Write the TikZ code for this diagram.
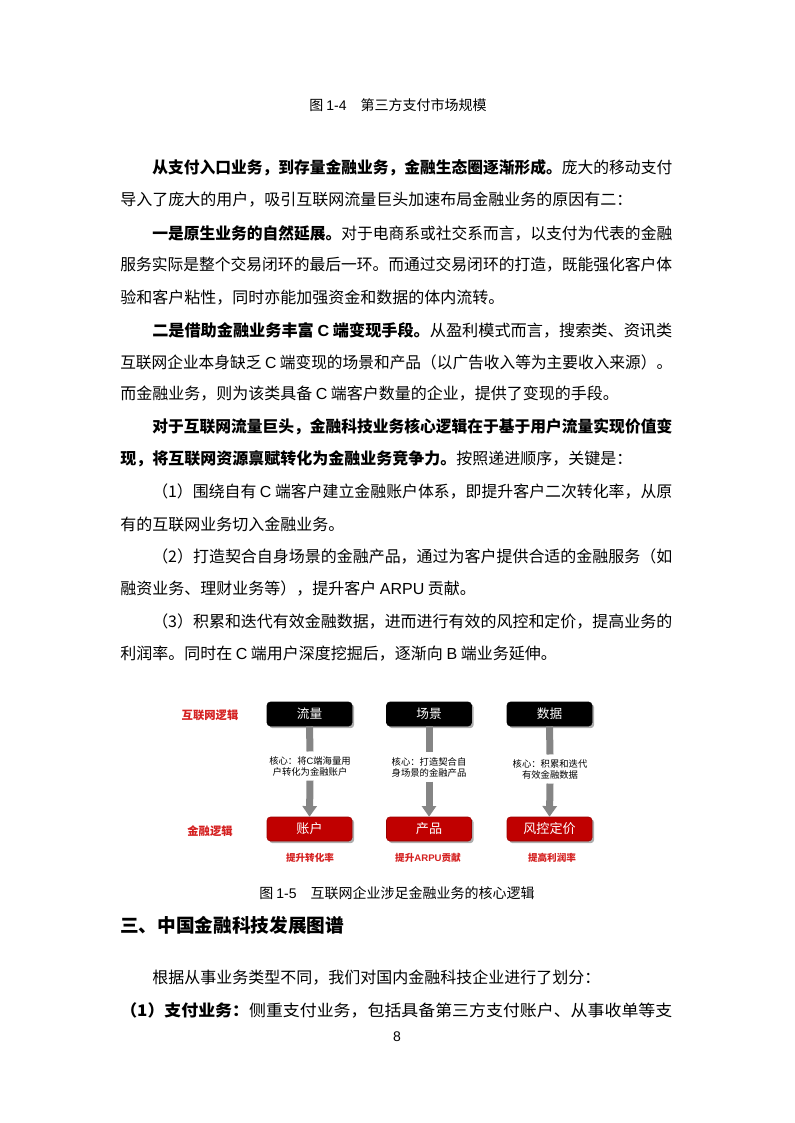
\documentclass[tikz,border=0pt]{standalone}
\usepackage{fontspec}
\usepackage{graphicx}
\setmainfont{Noto Sans CJK SC}
\newfontfamily\lat{Liberation Sans}
\usetikzlibrary{arrows.meta,shadows}
\definecolor{boxred}{HTML}{C00000}
\definecolor{labred}{HTML}{D42020}
\definecolor{arrgray}{HTML}{858585}
\newcommand\jl[2]{\resizebox{#1}{\height}{#2}}
\begin{document}
\begin{tikzpicture}[x=0.75pt,y=-0.75pt,
  body/.style={anchor=west,inner sep=0pt,font=\fontsize{12pt}{14pt}\selectfont},
  capt/.style={inner sep=0pt,font=\fontsize{10.5pt}{12pt}\selectfont},
  boxbase/.style={rounded corners=2.5pt,minimum width=63.75pt,minimum height=18pt,inner sep=0pt,text=white,
     drop shadow={shadow xshift=1.6pt,shadow yshift=-1.6pt,fill=black!45,opacity=0.7}},
  topbox/.style={boxbase,fill=black,draw=black,font=\fontsize{9.5pt}{10pt}\selectfont},
  redbox/.style={boxbase,fill=boxred,draw=boxred!80!black,font=\fontsize{9.8pt}{10pt}\selectfont},
  sidelab/.style={inner sep=0pt,text=labred,font=\fontsize{8.5pt}{9pt}\selectfont\bfseries},
  botlab/.style={inner sep=0pt,text=labred,font=\fontsize{7.2pt}{8pt}\selectfont\bfseries},
  core/.style={inner sep=0pt,outer sep=3.5pt,align=center,font=\fontsize{7pt}{8.3pt}\selectfont},
  shaft/.style={line width=5.25pt,draw=arrgray},
  arr/.style={shaft,-{Triangle[width=10.5pt,length=8pt]}}
]
\useasboundingbox (0,0) rectangle (794,1123);

\node[capt] (cap4) at (398,105) {图 {\lat 1-4}\quad 第三方支付市场规模};

\node[body] (l1) at (152,168) {\jl{390pt}{{\bfseries 从支付入口业务，到存量金融业务，金融生态圈逐渐形成。}庞大的移动支付}};
\node[body] (l2) at (120,200) {导入了庞大的用户，吸引互联网流量巨头加速布局金融业务的原因有二：};
\node[body] (l3) at (152,233) {\jl{390pt}{{\bfseries 一是原生业务的自然延展。}对于电商系或社交系而言，以支付为代表的金融}};
\node[body] (l4) at (120,265) {\jl{414pt}{服务实际是整个交易闭环的最后一环。而通过交易闭环的打造，既能强化客户体}};
\node[body] (l5) at (120,298) {验和客户粘性，同时亦能加强资金和数据的体内流转。};
\node[body] (l6) at (152,330) {\jl{390pt}{{\bfseries 二是借助金融业务丰富 {\lat C} 端变现手段。}从盈利模式而言，搜索类、资讯类}};
\node[body] (l7) at (120,362) {\jl{414pt}{互联网企业本身缺乏 {\lat C} 端变现的场景和产品（以广告收入等为主要收入来源）。}};
\node[body] (l8) at (120,394) {而金融业务，则为该类具备 {\lat C} 端客户数量的企业，提供了变现的手段。};
\node[body] (l9) at (152,427) {\jl{390pt}{\bfseries 对于互联网流量巨头，金融科技业务核心逻辑在于基于用户流量实现价值变}};
\node[body] (l10) at (120,459) {{\bfseries 现，将互联网资源禀赋转化为金融业务竞争力。}按照递进顺序，关键是：};
\node[body] (l11) at (152,492) {\jl{390pt}{（1）围绕自有 {\lat C} 端客户建立金融账户体系，即提升客户二次转化率，从原}};
\node[body] (l12) at (120,524) {有的互联网业务切入金融业务。};
\node[body] (l13) at (152,557) {\jl{390pt}{（2）打造契合自身场景的金融产品，通过为客户提供合适的金融服务（如}};
\node[body] (l14) at (120,589) {融资业务、理财业务等），提升客户 {\lat ARPU} 贡献。};
\node[body] (l15) at (152,622) {\jl{390pt}{（3）积累和迭代有效金融数据，进而进行有效的风控和定价，提高业务的}};
\node[body] (l16) at (120,654) {利润率。同时在 {\lat C} 端用户深度挖掘后，逐渐向 {\lat B} 端业务延伸。};

% diagram
\node[sidelab] (s1) at (210,715) {互联网逻辑};
\node[sidelab] (s2) at (210,831) {金融逻辑};

\node[topbox] (t1) at (309.5,714) {流量};
\node[topbox] (t2) at (429,714) {场景};
\node[topbox] (t3) at (549.5,714) {数据};

\node[redbox] (b1) at (309.5,829) {账户};
\node[redbox] (b2) at (429,829) {产品};
\node[redbox] (b3) at (549.5,829) {风控定价};

\node[core] (c1) at (310,766) {核心：将{\lat C}端海量用\\户转化为金融账户};
\node[core] (c2) at (429,767) {核心：打造契合自\\身场景的金融产品};
\node[core] (c3) at (550,769) {核心：积累和迭代\\有效金融数据};

\foreach \i in {1,2,3}{
  \draw[shaft] (t\i.south) -- (c\i.north);
  \draw[arr] (c\i.south) -- (b\i.north);
}

\node[botlab] (r1) at (310,858) {提升转化率};
\node[botlab] (r2) at (428,858) {提升{\lat ARPU}贡献};
\node[botlab] (r3) at (552,858) {提高利润率};

\node[capt] (cap5) at (397,893) {图 {\lat 1-5}\quad 互联网企业涉足金融业务的核心逻辑};
\node[anchor=west,inner sep=0pt,font=\fontsize{14pt}{16pt}\selectfont\bfseries] (h3) at (120,925) {三、中国金融科技发展图谱};
\node[body] (m1) at (152,978) {根据从事业务类型不同，我们对国内金融科技企业进行了划分：};
\node[body] (m2) at (120,1010) {\jl{414pt}{{\bfseries （1）支付业务：}侧重支付业务，包括具备第三方支付账户、从事收单等支}};
\node[capt] (pg) at (397,1037) {\lat 8};
\end{tikzpicture}
\end{document}
